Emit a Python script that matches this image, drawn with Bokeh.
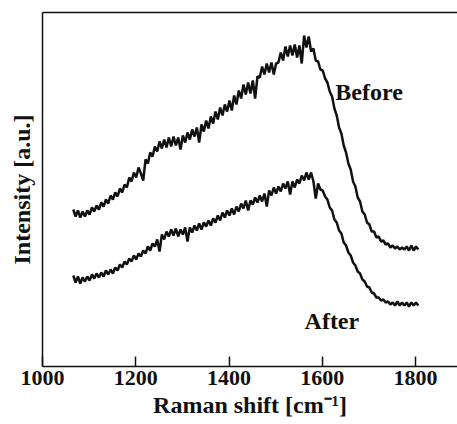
from bokeh.plotting import figure
from bokeh.models import LinearAxis, FixedTicker, Range1d, Label
from bokeh.embed import file_html
from bokeh.resources import INLINE

# Raman shift grid (cm^-1), 5 cm^-1 step
shift_start = 1066
shift_step = 5

before = [
    157, 150, 156, 149, 155, 150, 156,
    152, 159, 155, 161, 157, 164, 160, 167, 163, 171,
    167, 174, 170, 178, 174, 182, 179, 189, 185, 194,
    189, 199, 193, 186, 207, 203, 214, 210, 220, 215,
    225, 218, 227, 219, 229, 220, 230, 221, 229, 217,
    231, 224, 234, 227, 237, 230, 239, 224, 242, 235,
    246, 238, 250, 243, 255, 247, 259, 251, 262, 255,
    266, 256, 271, 262, 276, 268, 282, 272, 284, 273,
    286, 268, 290, 289, 300, 292, 303, 294, 304, 292,
    303, 304, 314, 306, 320, 310, 321, 311, 322, 309,
    321, 303, 331, 319, 330, 315, 318, 306, 305, 297,
    296, 288, 284, 275, 270, 258, 251, 239, 233, 221,
    214, 203, 197, 185, 180, 169, 165, 155, 152, 144,
    142, 135, 135, 129, 130, 125, 126, 122, 123, 119,
    121, 118, 120, 117, 119, 117, 120, 116, 121, 116,
    120, 117,
]

after = [
    91, 84, 90, 83, 89, 85, 90,
    86, 92, 88, 93, 89, 94, 90, 96, 92, 97,
    93, 99, 96, 102, 99, 105, 102, 108, 105, 111,
    107, 113, 110, 116, 113, 120, 116, 123, 120, 127,
    115, 132, 127, 135, 130, 137, 131, 138, 130, 137,
    132, 139, 125, 139, 134, 141, 136, 143, 137, 144,
    140, 146, 141, 148, 144, 151, 146, 154, 149, 156,
    151, 158, 152, 160, 155, 163, 158, 166, 156, 166,
    162, 169, 164, 171, 165, 173, 160, 176, 171, 179,
    173, 180, 175, 183, 178, 185, 172, 185, 179, 187,
    183, 191, 186, 194, 187, 194, 185, 168, 183, 177,
    176, 170, 167, 159, 156, 147, 144, 136, 133, 124,
    121, 114, 111, 104, 101, 95, 93, 87, 85, 80,
    79, 74, 73, 69, 69, 66, 67, 64, 65, 62,
    64, 61, 65, 61, 64, 61, 64, 60, 64, 61,
    64, 61,
]

x_ticks = [1000, 1200, 1400, 1600, 1800]
series_labels = ["Before", "After"]

shift_before = [shift_start + shift_step * i for i in range(len(before))]
shift_after = [shift_start + shift_step * i for i in range(len(after))]

FONT = "Liberation Serif"
INK = "#111111"

p = figure(width=457, height=424, output_backend="svg", toolbar_location=None,
           x_range=Range1d(1000, 1890), y_range=Range1d(0, 354),
           min_border_left=42, min_border_right=0, min_border_top=12,
           min_border_bottom=58)
p.outline_line_color = None
p.grid.visible = False
p.background_fill_color = "white"
p.border_fill_color = "white"

p.line(shift_before, before, line_color=INK, line_width=2.5)
p.line(shift_after, after, line_color=INK, line_width=2.5)

xa = p.xaxis[0]
xa.ticker = FixedTicker(ticks=x_ticks)
xa.minor_tick_line_color = None
xa.major_tick_in = 10
xa.major_tick_out = 0
xa.major_tick_line_width = 1.5
xa.major_tick_line_color = INK
xa.axis_line_width = 1.5
xa.axis_line_color = INK
xa.major_label_text_font = FONT
xa.major_label_text_font_style = "bold"
xa.major_label_text_font_size = "22px"
xa.major_label_text_color = INK
xa.major_label_standoff = 4
xa.axis_label = "Raman shift [cm\u207b\u00b9]"
xa.axis_label_text_font = FONT
xa.axis_label_text_font_style = "bold"
xa.axis_label_text_font_size = "24px"
xa.axis_label_text_color = INK
xa.axis_label_standoff = 4

ya = p.yaxis[0]
ya.ticker = FixedTicker(ticks=[])
ya.major_tick_line_color = None
ya.minor_tick_line_color = None
ya.axis_line_width = 1.5
ya.axis_line_color = INK
ya.axis_label = "Intensity [a.u.]"
ya.axis_label_text_font = FONT
ya.axis_label_text_font_style = "bold"
ya.axis_label_text_font_size = "24px"
ya.axis_label_text_color = INK
ya.axis_label_standoff = 8

top = LinearAxis(ticker=FixedTicker(ticks=[]), major_tick_line_color=None,
                 minor_tick_line_color=None, axis_line_width=1.5,
                 axis_line_color=INK)
p.add_layout(top, "above")

label_pos = {"Before": (1628, 275), "After": (1562, 46)}
for name in series_labels:
    lx, ly = label_pos[name]
    p.add_layout(Label(x=lx, y=ly, text=name, text_font=FONT,
                       text_font_style="bold", text_font_size="24px",
                       text_color=INK, text_baseline="alphabetic"))

open("out.html", "w").write(file_html(p, INLINE))
